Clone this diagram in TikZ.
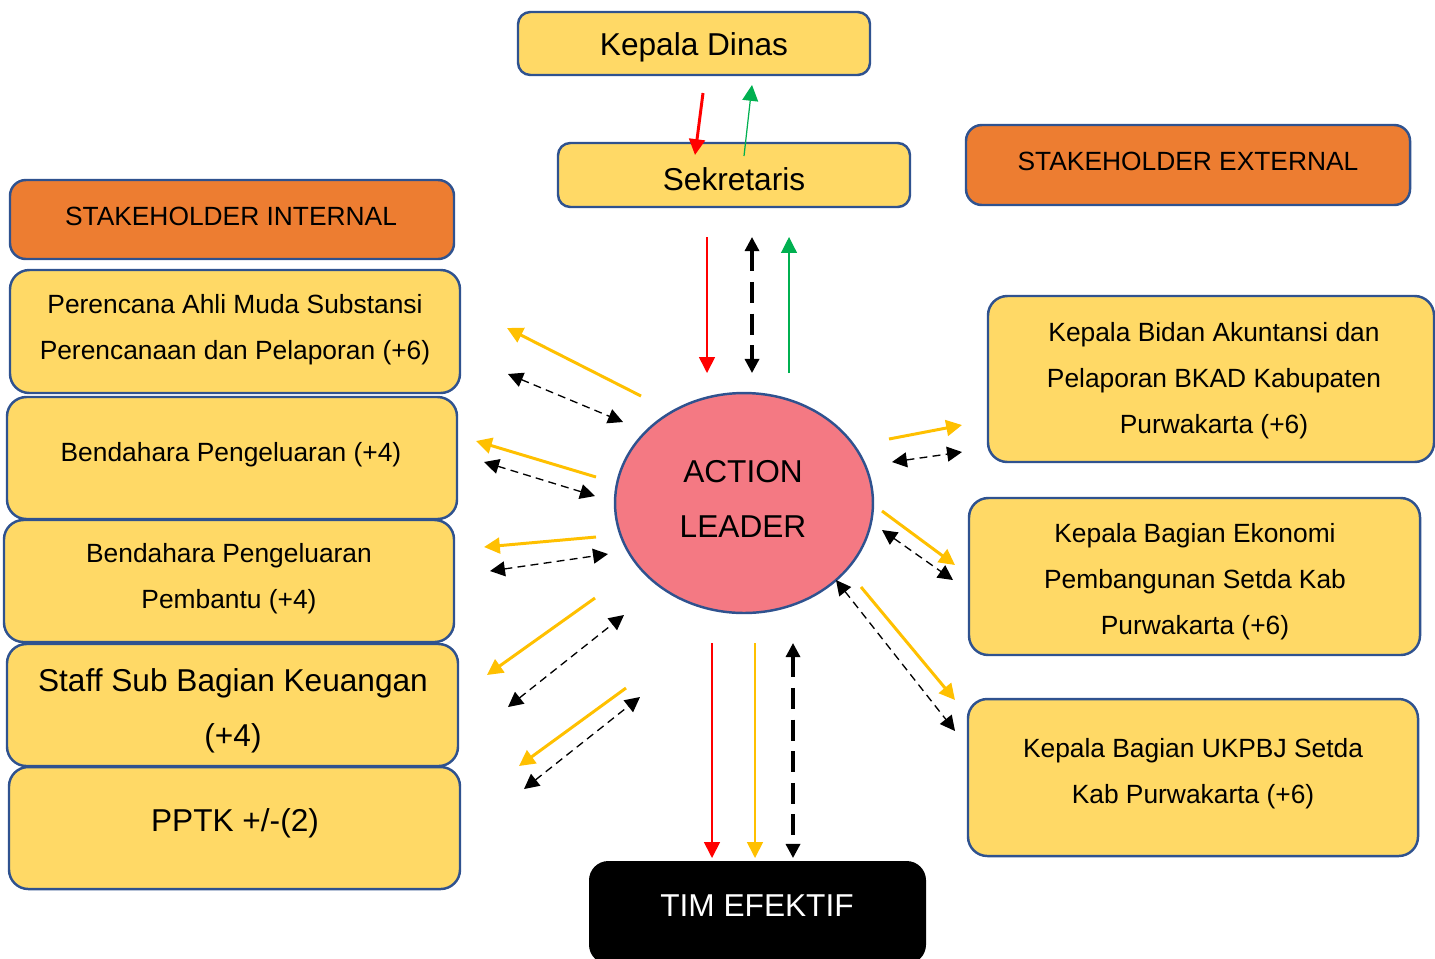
\documentclass[tikz,border=0pt]{standalone}
\usepackage{fontspec}
\setmainfont{Liberation Sans}
\usetikzlibrary{arrows.meta,shapes.geometric,fit}
\definecolor{boxfill}{HTML}{FFD966}
\definecolor{boxline}{HTML}{2F528F}
\definecolor{orangefill}{HTML}{ED7D31}
\definecolor{pinkfill}{HTML}{F47983}
\definecolor{yarrow}{HTML}{FFC000}
\definecolor{garrow}{HTML}{00B050}
\definecolor{rarrow}{HTML}{FF0000}
\tikzset{
  ybox/.style={draw=boxline, line width=1.4pt, fill=boxfill, rounded corners=11pt, inner sep=0pt},
  ybox small/.style={ybox, rounded corners=7pt},
  obox/.style={draw=boxline, line width=1.4pt, fill=orangefill, rounded corners=9pt, inner sep=0pt},
  kbox/.style={fill=black, rounded corners=11pt, inner sep=0pt},
  txtA/.style={font=\fontsize{15}{26.2}\selectfont, align=center, inner sep=0pt, yshift=-1.7pt},
  txtB/.style={font=\fontsize{18}{31.3}\selectfont, align=center, inner sep=0pt, yshift=-1.7pt},
  yarr/.style={draw=yarrow, line width=1.7pt, -{Triangle[length=9pt,width=9pt]}},
  rarr/.style={draw=rarrow, line width=0.9pt, -{Triangle[length=9pt,width=9pt]}},
  rarrthick/.style={draw=rarrow, line width=1.7pt, -{Triangle[length=9pt,width=9pt]}},
  garr/.style={draw=garrow, line width=0.7pt, -{Triangle[length=9pt,width=9pt]}},
  ddarr/.style={draw=black, line width=0.75pt, dash pattern=on 4.5pt off 3pt, {Triangle[length=8.5pt,width=8.5pt]}-{Triangle[length=8.5pt,width=8.5pt]}},
  tdarr/.style={draw=black, line width=1.8pt, dash pattern=on 12pt off 6pt, {Triangle[length=8pt,width=8pt]}-{Triangle[length=8pt,width=8pt]}},
}
\begin{document}
\begin{tikzpicture}[x=0.02cm, y=-0.02cm]
\useasboundingbox (0,0) rectangle (1435,958);

% Top boxes
\node[ybox small, fit={(518,12) (870,75)}] (kd) {};
\node[txtB] (kdt) at (694,44) {Kepala Dinas};
\node[ybox small, fit={(558,143) (910,207)}] (sek) {};
\node[txtB] (sekt) at (734,176) {Sekretaris};

% Stakeholder headers
\node[obox, fit={(10,180) (454,259)}] (si) {};
\node[txtA] (sit) at (231,213) {STAKEHOLDER INTERNAL};
\node[obox, fit={(966,125) (1410,205)}] (se) {};
\node[txtA] (set) at (1188,158) {STAKEHOLDER EXTERNAL};

% Left boxes
\node[ybox, fit={(10,270) (460,393)}] (l1) {};
\node[txtA] (l1t) at (235,327) {Perencana Ahli Muda Substansi\\Perencanaan dan Pelaporan (+6)};
\node[ybox, fit={(7,397) (457,519)}] (l2) {};
\node[txtA] (l2t) at (231,452) {Bendahara Pengeluaran (+4)};
\node[ybox, fit={(4,520) (454,642)}] (l3) {};
\node[txtA] (l3t) at (229,576) {Bendahara Pengeluaran\\Pembantu (+4)};
\node[ybox, fit={(7,644) (458,766)}] (l4) {};
\node[txtB] (l4t) at (233,708) {Staff Sub Bagian Keuangan\\(+4)};
\node[ybox, fit={(9,767) (460,889)}] (l5) {};
\node[txtB] (l5t) at (235,820) {PPTK +/-(2)};

% Right boxes
\node[ybox, fit={(988,296) (1434,462)}] (r1) {};
\node[txtA] (r1t) at (1214,378) {Kepala Bidan Akuntansi dan\\Pelaporan BKAD Kabupaten\\Purwakarta (+6)};
\node[ybox, fit={(969,498) (1420,655)}] (r2) {};
\node[txtA] (r2t) at (1195,579) {Kepala Bagian Ekonomi\\Pembangunan Setda Kab\\Purwakarta (+6)};
\node[ybox, fit={(968,699) (1418,856)}] (r3) {};
\node[txtA] (r3t) at (1193,771) {Kepala Bagian UKPBJ Setda\\Kab Purwakarta (+6)};

% Action leader
\node[ellipse, draw=boxline, line width=1.4pt, fill=pinkfill, minimum width=5.16cm, minimum height=4.4cm, inner sep=0pt] (al) at (744,503) {};
\node[txtB] (alt) at (743,496) {ACTION\\LEADER};

% Tim efektif
\node[kbox, fit={(589,861) (926,964)}] (tim) {};
\node[txtB, text=white] (timt) at (757,903) {TIM EFEKTIF};

% Coordinates for connectors
\coordinate (kd1) at (703,93);  \coordinate (sk1) at (695,155);
\coordinate (sk2) at (744,156); \coordinate (kd2) at (752,85);
\coordinate (s3) at (707,237);  \coordinate (a3) at (707,373);
\coordinate (s4) at (752,237);  \coordinate (a4) at (752,373);
\coordinate (a5) at (789,373);  \coordinate (s5) at (789,237);

\coordinate (a1y) at (641,396); \coordinate (l1y) at (507,328);
\coordinate (l1d) at (508,374); \coordinate (a1d) at (623,422);
\coordinate (a2y) at (596,477); \coordinate (l2y) at (476,441);
\coordinate (l2d) at (484,462); \coordinate (a2d) at (595,496);
\coordinate (a3y) at (596,537); \coordinate (l3y) at (484,547);
\coordinate (l3d) at (490,571); \coordinate (a3d) at (608,554);
\coordinate (a4y) at (595,598); \coordinate (l4y) at (487,675);
\coordinate (l4d) at (508,707); \coordinate (a4d) at (624,615);
\coordinate (a5y) at (626,688); \coordinate (l5y) at (519,766);
\coordinate (l5d) at (524,789); \coordinate (a5d) at (640,697);

\coordinate (b1y) at (889,439); \coordinate (r1y) at (962,425);
\coordinate (b1d) at (892,462); \coordinate (r1d) at (962,452);
\coordinate (b2y) at (882,511); \coordinate (r2y) at (955,565);
\coordinate (b2d) at (882,530); \coordinate (r2d) at (953,580);
\coordinate (b3y) at (861,587); \coordinate (r3y) at (955,700);
\coordinate (b3d) at (836,580); \coordinate (r3d) at (955,731);

\coordinate (t1a) at (712,643); \coordinate (t1b) at (712,858);
\coordinate (t2a) at (755,643); \coordinate (t2b) at (755,858);
\coordinate (t3a) at (793,643); \coordinate (t3b) at (793,858);

% Connectors top
\draw[rarrthick] (kd1) -- (sk1);
\draw[garr] (sk2) -- (kd2);
\draw[rarr] (s3) -- (a3);
\draw[tdarr] (s4) -- (a4);
\draw[garr] (a5) -- (s5);

% Left connectors
\draw[yarr] (a1y) -- (l1y);
\draw[ddarr] (l1d) -- (a1d);
\draw[yarr] (a2y) -- (l2y);
\draw[ddarr] (l2d) -- (a2d);
\draw[yarr] (a3y) -- (l3y);
\draw[ddarr] (l3d) -- (a3d);
\draw[yarr] (a4y) -- (l4y);
\draw[ddarr] (l4d) -- (a4d);
\draw[yarr] (a5y) -- (l5y);
\draw[ddarr] (l5d) -- (a5d);

% Right connectors
\draw[yarr] (b1y) -- (r1y);
\draw[ddarr] (b1d) -- (r1d);
\draw[yarr] (b2y) -- (r2y);
\draw[ddarr] (b2d) -- (r2d);
\draw[yarr] (b3y) -- (r3y);
\draw[ddarr] (b3d) -- (r3d);

% Bottom connectors
\draw[rarr] (t1a) -- (t1b);
\draw[yarr, line width=0.9pt] (t2a) -- (t2b);
\draw[tdarr] (t3a) -- (t3b);
\end{tikzpicture}
\end{document}
